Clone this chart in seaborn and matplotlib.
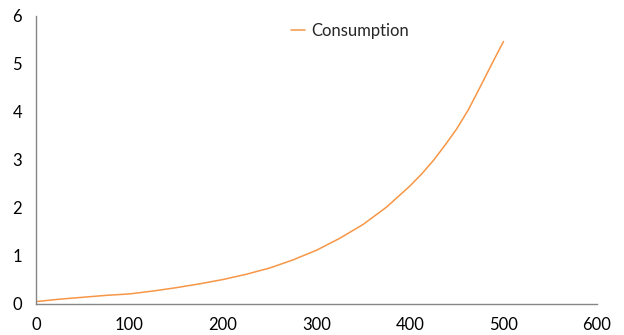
import matplotlib
matplotlib.use("Agg")
import matplotlib.pyplot as plt
import seaborn as sns
import pandas as pd

x_values = [0, 25, 50, 75, 100, 125, 150, 175, 200, 225, 250, 275, 300,
            325, 350, 375, 400, 412.5, 425, 437.5, 450, 462.5, 475, 487.5, 500]
consumption = [0.05, 0.10, 0.14, 0.18, 0.21, 0.27, 0.34, 0.42, 0.51, 0.62,
               0.75, 0.92, 1.12, 1.37, 1.66, 2.02, 2.46, 2.71, 2.99, 3.31,
               3.65, 4.05, 4.52, 5.00, 5.47]
series_name = "Consumption"
x_ticks = [0, 100, 200, 300, 400, 500, 600]
y_ticks = [0, 1, 2, 3, 4, 5, 6]

sns.set_style("white")
plt.rcParams['font.family'] = ['Lato', 'DejaVu Sans']

df = pd.DataFrame({"x": x_values, "y": consumption, "series": series_name})

fig = plt.figure(figsize=(6.24, 3.35), dpi=100)
ax = fig.add_axes([36/624, 31/335, (597-36)/624, (304-16)/335])
sns.lineplot(data=df, x="x", y="y", hue="series", palette=["#F79646"],
             linewidth=1.1, ax=ax)
ax.set_xlim(0, 600)
ax.set_ylim(0, 6)
ax.set_xticks(x_ticks)
ax.set_yticks(y_ticks)
ax.set_xlabel("")
ax.set_ylabel("")
for s in ["top", "right"]:
    ax.spines[s].set_visible(False)
for s in ["left", "bottom"]:
    ax.spines[s].set_color("#868686")
    ax.spines[s].set_linewidth(1.0)
ax.tick_params(axis="both", length=0, labelsize=12, colors="#000000")
ax.tick_params(axis="x", pad=9)
ax.tick_params(axis="y", pad=10)
leg = ax.legend(loc="center left", bbox_to_anchor=(290.5/624, (335-31)/335),
                bbox_transform=fig.transFigure, frameon=False,
                fontsize=12, handlelength=0.84, handletextpad=0.4,
                borderpad=0, borderaxespad=0)
fig.savefig("out.png", dpi=100)
